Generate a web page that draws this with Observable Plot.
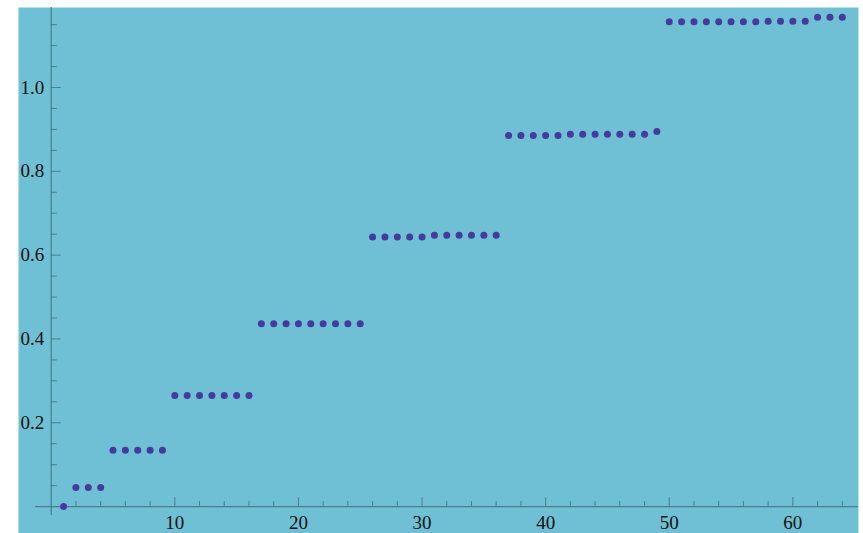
<!DOCTYPE html>
<html>
<head>
<meta charset="utf-8">
<script src="https://cdn.jsdelivr.net/npm/d3@7"></script>
<script src="https://cdn.jsdelivr.net/npm/@observablehq/plot@0.6"></script>
<style>
  html, body { margin: 0; padding: 0; background: #ffffff; }
  #chart svg { display: block; }
</style>
</head>
<body>
<div id="chart"></div>
<script>
// Step values of the sequence, one per index n = 1..64
const values = [
  0,
  0.0456, 0.0456, 0.0456,
  0.1347, 0.1347, 0.1347, 0.1347, 0.1347,
  0.265, 0.265, 0.265, 0.265, 0.265, 0.265, 0.265,
  0.436, 0.436, 0.436, 0.436, 0.436, 0.436, 0.436, 0.436, 0.436,
  0.643, 0.643, 0.643, 0.643, 0.643,
  0.6476, 0.6476, 0.6476, 0.6476, 0.6476, 0.6476,
  0.8855, 0.8855, 0.8855, 0.8855, 0.8855,
  0.8886, 0.8886, 0.8886, 0.8886, 0.8886, 0.8886, 0.8886,
  0.895,
  1.1568, 1.1568, 1.1568, 1.1568, 1.1568, 1.1568, 1.1568, 1.1568,
  1.158, 1.158, 1.158, 1.158,
  1.1678, 1.1678, 1.1678
];

// Axis ticks
const xMajorTicks = [10, 20, 30, 40, 50, 60];
const xMinorTicks = [2, 4, 6, 8, 12, 14, 16, 18, 22, 24, 26, 28, 32, 34, 36, 38, 42, 44, 46, 48, 52, 54, 56, 58, 62, 64];
const yMajorTicks = [0.2, 0.4, 0.6, 0.8, 1.0];
const yMinorTicks = [0.05, 0.1, 0.15, 0.25, 0.3, 0.35, 0.45, 0.5, 0.55, 0.65, 0.7, 0.75, 0.85, 0.9, 0.95, 1.05, 1.1, 1.15];

const axisColor = "#4e7c89";
const dotColor = "#473a9f";
const panelColor = "#6fc0d4";
const labelFont = "'Liberation Serif', 'Times New Roman', serif";

const chart = Plot.plot({
  width: 863,
  height: 533,
  marginLeft: 18,
  marginRight: 5,
  marginTop: 7,
  marginBottom: 0,
  x: {domain: [-2.646, 65.31], axis: null},
  y: {domain: [-0.0642, 1.1909], axis: null},
  style: {fontFamily: labelFont, background: "#ffffff"},
  marks: [
    Plot.frame({fill: panelColor, stroke: null}),
    // axis lines crossing at the origin
    Plot.ruleY([0], {stroke: axisColor, strokeWidth: 1.2, insetLeft: 17}),
    Plot.ruleX([0], {stroke: axisColor, strokeWidth: 1.2, insetBottom: 18}),
    // x ticks pointing up from the axis
    Plot.ruleX(xMajorTicks, {x: d => d, y1: 0, y2: 0, insetTop: -9, stroke: axisColor}),
    Plot.ruleX(xMinorTicks, {x: d => d, y1: 0, y2: 0, insetTop: -5, stroke: axisColor}),
    // y ticks pointing right from the axis
    Plot.ruleY(yMajorTicks, {y: d => d, x1: 0, x2: 0, insetRight: -10, stroke: axisColor}),
    Plot.ruleY(yMinorTicks, {y: d => d, x1: 0, x2: 0, insetRight: -6, stroke: axisColor}),
    // tick labels
    Plot.text(xMajorTicks, {x: d => d, y: 0, dy: 16.5, text: d => String(d), fontSize: 19, fill: "#111111"}),
    Plot.text(yMajorTicks, {x: 0, y: d => d, dx: -7, text: d => d.toFixed(1), textAnchor: "end", fontSize: 19, fill: "#111111"}),
    // the sequence
    Plot.dot(values, {x: (d, i) => i + 1, y: d => d, r: 3.5, fill: dotColor, stroke: null})
  ]
});

document.getElementById("chart").append(chart);
</script>
</body>
</html>
